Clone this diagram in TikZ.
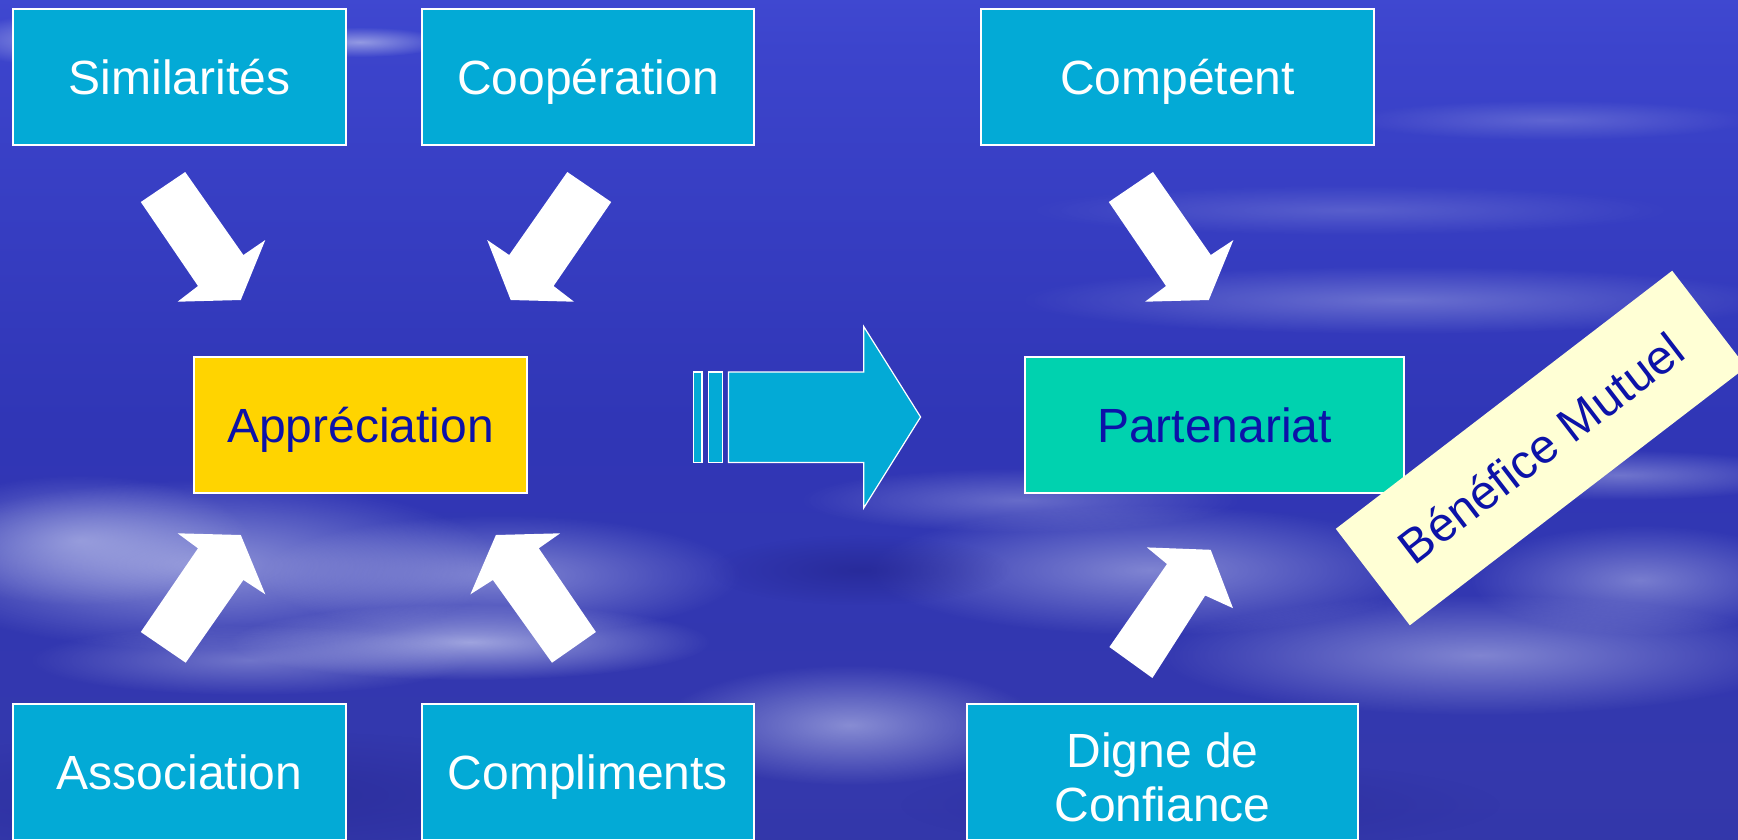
\documentclass[tikz,border=0pt]{standalone}
\usepackage{fontspec}
\setmainfont{Liberation Sans}
\usetikzlibrary{fadings}
\definecolor{bgtop}{RGB}{92,104,238}
\definecolor{bgup1}{RGB}{76,88,226}
\definecolor{bgup}{RGB}{60,68,204}
\definecolor{bgmid}{RGB}{48,54,182}
\definecolor{bglow}{RGB}{52,56,172}
\definecolor{bgbot}{RGB}{42,44,148}
\definecolor{cloudc}{RGB}{205,210,242}
\definecolor{darkc}{RGB}{36,38,145}
\definecolor{boxcyan}{RGB}{3,170,214}
\definecolor{boxyellow}{RGB}{255,212,0}
\definecolor{boxteal}{RGB}{0,210,175}
\definecolor{benefy}{RGB}{255,255,213}
\definecolor{txtblue}{RGB}{12,18,168}
\pgfdeclareverticalshading{sky}{100bp}{color(0bp)=(bgbot); color(28bp)=(bglow); color(50bp)=(bgmid); color(72bp)=(bgup); color(88bp)=(bgup1); color(100bp)=(bgtop)}
\tikzfading[name=softcloud, inner color=transparent!0, outer color=transparent!100]
\begin{document}
\begin{tikzpicture}[x=1pt,y=-1pt,
  bigfont/.style={font=\fontsize{48pt}{55pt}\selectfont},
  boxbase/.style={bigfont, draw=white, line width=1.5pt, inner sep=0pt,
    minimum height=136pt, text height=34.4pt, text depth=0pt},
  cbox/.style={boxbase, fill=boxcyan, text=white},
  ybox/.style={boxbase, fill=boxyellow, text=txtblue},
  tbox/.style={boxbase, fill=boxteal, text=txtblue},
  linetext/.style={bigfont, text=white, anchor=base, inner sep=0pt},
  cloud/.style={fill=cloudc, path fading=softcloud},
  darkcloud/.style={fill=darkc, path fading=softcloud},
  fatarrow/.style={fill=white},
  blockarrow/.style={fill=boxcyan, draw=white, line width=1.2pt}
]
\useasboundingbox (0,0) rectangle (1738,839);
\begin{scope}
\clip (0,0) rectangle (1738,839);
% background sky
\shade[shading=sky] (0,0) rectangle (1738,839);
% clouds
\fill[cloud, opacity=.60] (200,565) ellipse (300pt and 85pt);
\fill[cloud, opacity=.50] (80,540) ellipse (170pt and 65pt);
\fill[cloud, opacity=.50] (500,575) ellipse (240pt and 60pt);
\fill[cloud, opacity=.70] (470,642) ellipse (240pt and 38pt);
\fill[cloud, opacity=.40] (250,660) ellipse (220pt and 35pt);
\fill[cloud, opacity=.50] (1150,570) ellipse (280pt and 65pt);
\fill[cloud, opacity=.35] (1020,500) ellipse (220pt and 32pt);
\fill[cloud, opacity=.50] (1480,655) ellipse (320pt and 60pt);
\fill[cloud, opacity=.45] (1640,580) ellipse (170pt and 55pt);
\fill[cloud, opacity=.40] (1620,475) ellipse (190pt and 25pt);
\fill[cloud, opacity=.55] (850,725) ellipse (190pt and 60pt);
\fill[cloud, opacity=.35] (1400,300) ellipse (380pt and 34pt);
\fill[cloud, opacity=.22] (1350,210) ellipse (320pt and 25pt);
\fill[cloud, opacity=.60] (60,40) ellipse (100pt and 26pt);
\fill[cloud, opacity=.60] (360,42) ellipse (85pt and 15pt);
\fill[cloud, opacity=.25] (1550,120) ellipse (200pt and 20pt);
\fill[darkcloud, opacity=.70] (860,570) ellipse (150pt and 35pt);
\fill[darkcloud, opacity=.55] (240,795) ellipse (380pt and 65pt);
\fill[darkcloud, opacity=.40] (1200,805) ellipse (300pt and 45pt);
\end{scope}

% boxes
\node[cbox, minimum width=333pt] (sim)   at (179.5,77) {Similarités};
\node[cbox, minimum width=332pt] (coop)  at (588,77)   {Coopération};
\node[cbox, minimum width=393pt] (comp)  at (1177.5,77) {Compétent};
\node[ybox, minimum width=333pt] (appr)  at (360.5,425) {Appréciation};
\node[tbox, minimum width=379pt] (part)  at (1214.5,425) {Partenariat};
\node[cbox, minimum width=333pt] (assoc) at (179.5,772) {Association};
\node[cbox, minimum width=332pt] (compl) at (588,772)  {Compliments};
\node[cbox, minimum width=391pt] (digne) at (1162.5,772) {};
\node[linetext] (digne1) at (1162.5,767) {Digne de};
\node[linetext] (digne2) at (1162.5,821) {Confiance};

% rotated label
\node[bigfont, rotate=37.5, fill=benefy, text=txtblue, inner sep=0pt,
  minimum width=424pt, minimum height=121.6pt, text height=34.4pt, text depth=0pt]
  (benef) at (1541,448) {Bénéfice Mutuel};

% fat white arrows
\fill[fatarrow] (140.8,202) -- (185.2,172) -- (243.4,255) -- (265.3,240) -- (240.8,300) -- (177.6,301.7) -- (198,286) -- cycle;
\fill[fatarrow] (611.2,202) -- (567.3,172) -- (509.2,255) -- (487.2,240) -- (510.7,300) -- (574,301.7) -- (553.6,286) -- cycle;
\fill[fatarrow] (140.8,632) -- (185.7,662.7) -- (243.4,580) -- (265.3,594.3) -- (240.8,535) -- (177.6,533.3) -- (198,548.3) -- cycle;
\fill[fatarrow] (595.9,632) -- (552,662.7) -- (492.9,580) -- (470.4,594.3) -- (495.9,535) -- (560.2,533.3) -- (538.8,548.3) -- cycle;
\fill[fatarrow] (1108.8,202) -- (1153,172) -- (1210.8,255) -- (1233.4,240) -- (1208.8,300) -- (1145,301.7) -- (1166,286) -- cycle;
\fill[fatarrow] (1109.4,647) -- (1152.4,678) -- (1205.2,595.5) -- (1233,608.2) -- (1210.7,549.8) -- (1146.9,547.4) -- (1167,564) -- cycle;

% striped block arrow
\draw[blockarrow] (693.7,372) rectangle (702,462.5);
\draw[blockarrow] (708.3,372) rectangle (722.2,462.5);
\draw[blockarrow] (728.4,372) -- (863.7,372) -- (863.7,326.5) -- (920.6,417) -- (863.7,508) -- (863.7,462.5) -- (728.4,462.5) -- cycle;
\end{tikzpicture}
\end{document}
